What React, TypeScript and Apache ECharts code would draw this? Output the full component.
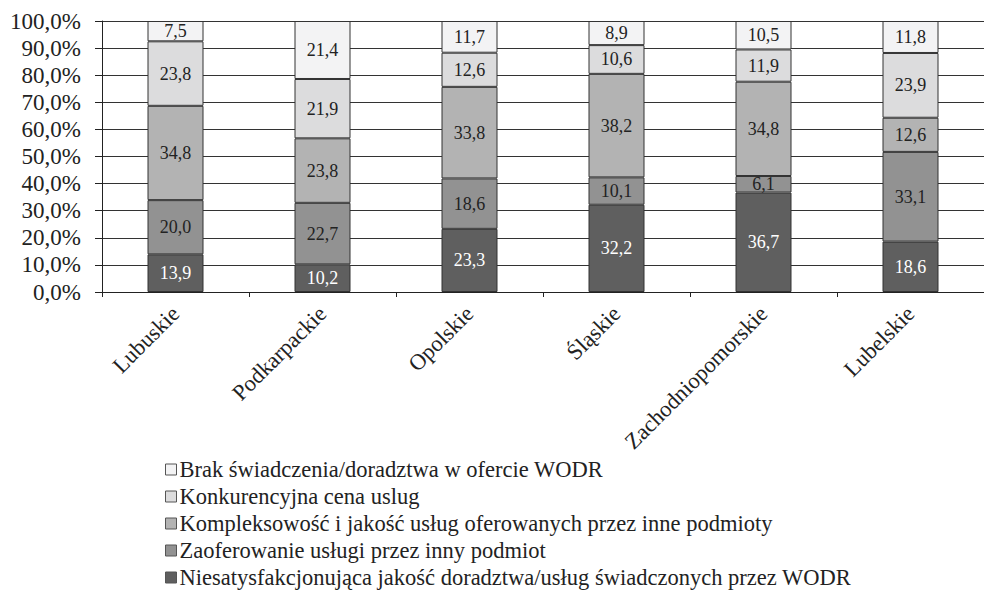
import React, { useEffect, useRef } from "react";
import * as echarts from "echarts";

const categories = ["Lubuskie", "Podkarpackie", "Opolskie", "Śląskie", "Zachodniopomorskie", "Lubelskie"];
const seriesNames = [
  "Niesatysfakcjonująca jakość doradztwa/usług świadczonych przez WODR",
  "Zaoferowanie usługi przez inny podmiot",
  "Kompleksowość i jakość usług oferowanych przez inne podmioty",
  "Konkurencyjna cena uslug",
  "Brak świadczenia/doradztwa w ofercie WODR",
];
const niesatysfakcjonujaca = [13.9, 10.2, 23.3, 32.2, 36.7, 18.6];
const zaoferowanie = [20.0, 22.7, 18.6, 10.1, 6.1, 33.1];
const kompleksowosc = [34.8, 23.8, 33.8, 38.2, 34.8, 12.6];
const konkurencyjna = [23.8, 21.9, 12.6, 10.6, 11.9, 23.9];
const brak = [7.5, 21.4, 11.7, 8.9, 10.5, 11.8];

const seriesValues = [niesatysfakcjonujaca, zaoferowanie, kompleksowosc, konkurencyjna, brak];
const colors = ["#5f5f5f", "#929292", "#b3b3b3", "#dcdcdd", "#f3f3f4"];
const labelColors = ["#ffffff", "#222222", "#222222", "#222222", "#222222"];
const FONT = "Liberation Serif";

export default function App() {
  const ref = useRef<HTMLDivElement>(null);
  useEffect(() => {
    if (!ref.current) return;
    const chart = echarts.init(ref.current, undefined, { renderer: "svg" });
    chart.setOption({
      animation: false,
      grid: { left: 102, top: 21, width: 888, height: 271, containLabel: false },
      legend: {
        orient: "vertical",
        left: 160,
        top: 453,
        itemWidth: 11,
        itemHeight: 11,
        itemGap: 4,
        icon: "rect",
        data: [...seriesNames].reverse(),
        textStyle: { fontFamily: FONT, fontSize: 22.5, color: "#222", lineHeight: 23, padding: [0, 0, 0, -2] },
        itemStyle: { borderColor: "#555", borderWidth: 1 },
      },
      xAxis: {
        type: "category",
        data: categories,
        axisLine: { lineStyle: { color: "#222", width: 1 } },
        axisTick: { show: true, length: 5, lineStyle: { color: "#222" } },
        axisLabel: {
          rotate: 45,
          interval: 0,
          fontFamily: FONT,
          fontSize: 22.5,
          color: "#222",
          margin: 18,
        },
      },
      yAxis: {
        type: "value",
        min: 0,
        max: 100,
        interval: 10,
        axisLine: { show: true, lineStyle: { color: "#222", width: 1 } },
        axisTick: { show: true, length: 7, lineStyle: { color: "#222" } },
        splitLine: { show: true, lineStyle: { color: "#333", width: 1 } },
        axisLabel: {
          fontFamily: FONT,
          fontSize: 23,
          color: "#222",
          margin: 21,
          formatter: (v: number) => v.toFixed(1).replace(".", ",") + "%",
        },
      },
      series: seriesValues.map((vals, i) => ({
        name: seriesNames[i],
        type: "bar",
        stack: "total",
        barWidth: 56,
        data: vals,
        itemStyle: { color: colors[i], borderColor: "#333", borderWidth: 1 },
        label: {
          show: true,
          position: "inside",
          fontFamily: FONT,
          fontSize: 18,
          color: labelColors[i],
          formatter: (p: any) => Number(p.value).toFixed(1).replace(".", ","),
        },
      })),
    });
    return () => chart.dispose();
  }, []);
  return <div ref={ref} style={{ width: 984, height: 596, position: "absolute", left: 0, top: 0 }} />;
}
